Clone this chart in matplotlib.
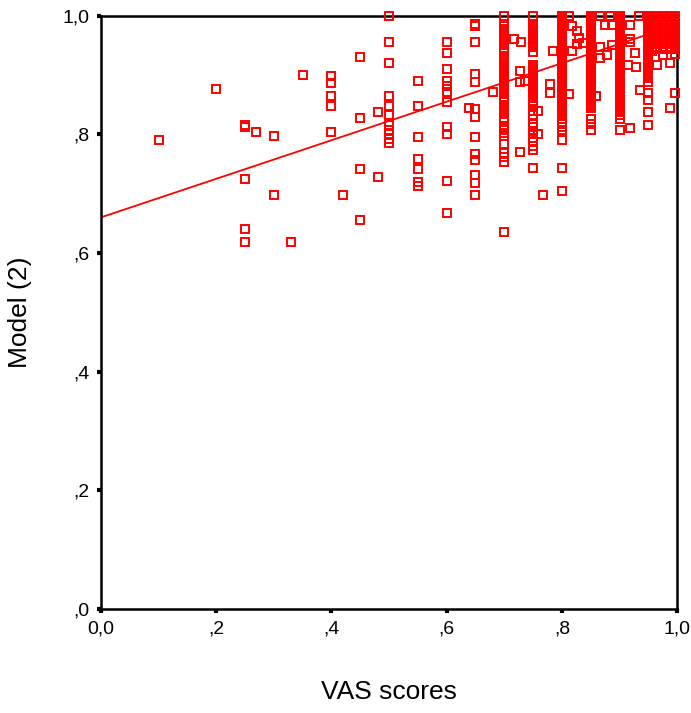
import matplotlib.pyplot as plt

# VAS score columns (x) and the model (2) values observed at each one (y)
col_x = [0.10, 0.20, 0.25, 0.27, 0.30, 0.33, 0.35, 0.40, 0.42, 0.45, 0.48,
         0.50, 0.55, 0.60, 0.65, 0.70, 0.75, 0.80, 0.85, 0.90, 0.95,
         0.965, 0.976, 0.988, 0.997]

col_y = [
    [0.79],
    [0.877],
    [0.815, 0.812, 0.725, 0.641, 0.619],
    [0.804],
    [0.798, 0.698],
    [0.618],
    [0.90],
    [0.898, 0.886, 0.864, 0.847, 0.804],
    [0.698],
    [0.930, 0.827, 0.741, 0.655],
    [0.837, 0.728],
    [1.0, 0.956, 0.92, 0.864, 0.847, 0.833, 0.816, 0.808, 0.80, 0.792, 0.785],
    [0.890, 0.847, 0.795, 0.758, 0.741, 0.719, 0.713],
    [0.956, 0.937, 0.91, 0.89, 0.882, 0.872, 0.854, 0.813, 0.80, 0.721, 0.668],
    [0.986, 0.982, 0.956, 0.902, 0.888, 0.843, 0.830, 0.795, 0.767, 0.757,
     0.732, 0.718, 0.698],
    [1.0, 0.982, 0.978, 0.974, 0.970, 0.965, 0.960, 0.955, 0.950, 0.945, 0.940,
     0.928, 0.922, 0.916, 0.910, 0.904, 0.898, 0.892, 0.886, 0.880, 0.874,
     0.868, 0.862, 0.856, 0.850, 0.845, 0.840, 0.835, 0.828, 0.822, 0.813,
     0.808, 0.802, 0.797, 0.784, 0.768, 0.762, 0.754, 0.635,
     0.925, 0.919, 0.913, 0.907, 0.901, 0.895, 0.889, 0.883, 0.877, 0.871],
    [1.0, 0.985, 0.978, 0.972, 0.966, 0.960, 0.954, 0.948, 0.938, 0.917, 0.910,
     0.903, 0.896, 0.889, 0.882, 0.875, 0.868, 0.861, 0.854, 0.847, 0.840,
     0.833, 0.825, 0.818, 0.812, 0.806, 0.800, 0.794, 0.788, 0.781, 0.774,
     0.744, 0.981, 0.975, 0.969, 0.963, 0.957, 0.951, 0.913, 0.906, 0.899,
     0.892, 0.885, 0.878, 0.871, 0.864, 0.857, 0.850],
    [1.0, 0.994, 0.988, 0.982, 0.976, 0.970, 0.964, 0.958, 0.952, 0.946, 0.940,
     0.934, 0.928, 0.922, 0.916, 0.910, 0.904, 0.898, 0.892, 0.886, 0.880,
     0.874, 0.868, 0.862, 0.856, 0.850, 0.844, 0.838, 0.832, 0.825, 0.818,
     0.812, 0.808, 0.791, 0.744, 0.705,
     0.997, 0.991, 0.985, 0.979, 0.973, 0.967, 0.961, 0.955, 0.949, 0.943,
     0.937, 0.931, 0.925, 0.919, 0.913, 0.907, 0.901, 0.895, 0.889, 0.883,
     0.877, 0.871, 0.865, 0.859, 0.853, 0.847, 0.841, 0.835],
    [1.0, 0.994, 0.988, 0.982, 0.976, 0.970, 0.964, 0.958, 0.952, 0.946, 0.940,
     0.934, 0.928, 0.922, 0.916, 0.910, 0.904, 0.898, 0.892, 0.886, 0.880,
     0.874, 0.868, 0.862, 0.856, 0.850, 0.844, 0.825, 0.818, 0.808,
     0.997, 0.991, 0.985, 0.979, 0.973, 0.967, 0.961, 0.955, 0.949, 0.943,
     0.937, 0.931, 0.925, 0.919, 0.913, 0.907, 0.901, 0.895, 0.889, 0.883,
     0.877, 0.871, 0.865, 0.859, 0.853, 0.847],
    [1.0, 0.994, 0.988, 0.982, 0.976, 0.970, 0.964, 0.958, 0.952, 0.946, 0.940,
     0.934, 0.928, 0.922, 0.916, 0.910, 0.904, 0.898, 0.892, 0.886, 0.880,
     0.874, 0.868, 0.862, 0.856, 0.850, 0.844, 0.838, 0.833, 0.825, 0.808,
     0.997, 0.991, 0.985, 0.979, 0.973, 0.967, 0.961, 0.955, 0.949, 0.943,
     0.937, 0.931, 0.925, 0.919, 0.913, 0.907, 0.901, 0.895, 0.889, 0.883,
     0.877, 0.871, 0.865, 0.859, 0.853, 0.847, 0.841],
    [1.0, 0.994, 0.988, 0.982, 0.976, 0.970, 0.964, 0.958, 0.952, 0.946, 0.940,
     0.934, 0.928, 0.922, 0.916, 0.910, 0.904, 0.898, 0.889, 0.870, 0.858,
     0.837, 0.815, 0.997, 0.991, 0.985, 0.979, 0.973, 0.967, 0.961, 0.955,
     0.949, 0.943, 0.937, 0.931, 0.925, 0.919, 0.913, 0.907, 0.901, 0.895],
    [1.0, 0.992, 0.984, 0.976, 0.968, 0.960, 0.952, 0.943, 0.917,
     0.996, 0.988, 0.980, 0.972, 0.964, 0.956, 0.948],
    [1.0, 0.992, 0.984, 0.976, 0.968, 0.960, 0.952, 0.943, 0.934,
     0.996, 0.988, 0.980, 0.972, 0.964, 0.956, 0.948],
    [1.0, 0.992, 0.984, 0.976, 0.968, 0.960, 0.952, 0.943, 0.92, 0.844,
     0.996, 0.988, 0.980, 0.972, 0.964, 0.956, 0.948],
    [1.0, 0.992, 0.984, 0.976, 0.968, 0.960, 0.952, 0.943, 0.936, 0.870,
     0.996, 0.988, 0.980, 0.972, 0.964, 0.956, 0.948],
]

# points lying between the main columns
off_x = [0.638, 0.68, 0.717, 0.729, 0.727, 0.727, 0.736, 0.727, 0.759, 0.759,
         0.768, 0.78, 0.78, 0.785, 0.8125, 0.817, 0.826, 0.83, 0.826, 0.817,
         0.8125, 0.837, 0.86, 0.866, 0.875, 0.866, 0.866, 0.879, 0.887, 0.887,
         0.884, 0.918, 0.918, 0.918, 0.915, 0.927, 0.929, 0.936, 0.918, 0.933,
         0.956]
off_y = [0.844, 0.871, 0.961, 0.956, 0.906, 0.889, 0.89, 0.771, 0.840, 0.801,
         0.698, 0.884, 0.870, 0.941, 1.0, 0.983, 0.974, 0.962, 0.952, 0.940,
         0.868, 0.954, 0.864, 1.0, 0.985, 0.948, 0.928, 0.934, 0.951, 0.985,
         1.0, 0.985, 0.96, 0.956, 0.917, 0.937, 0.913, 0.874, 0.81, 1.0,
         0.94]

# fit line
fit_intercept = 0.66
fit_slope = 0.325

x_ticks = [0.0, 0.2, 0.4, 0.6, 0.8, 1.0]
x_tick_labels = ['0,0', ',2', ',4', ',6', ',8', '1,0']
y_ticks = [0.0, 0.2, 0.4, 0.6, 0.8, 1.0]
y_tick_labels = [',0', ',2', ',4', ',6', ',8', '1,0']

plt.rcParams['font.family'] = ['Liberation Sans', 'DejaVu Sans']

fig = plt.figure(figsize=(6.91, 7.13), dpi=100)
ax = fig.add_axes([0.146, 0.146, 0.834, 0.832])

xs = []
ys = []
for x, yl in zip(col_x, col_y):
    xs.extend([x] * len(yl))
    ys.extend(yl)
xs.extend(off_x)
ys.extend(off_y)

ax.plot(xs, ys, linestyle='none', marker='s', markersize=5.8,
        markerfacecolor='none', markeredgecolor='red', markeredgewidth=1.4,
        clip_on=False, zorder=3)

ax.plot([0, 1], [fit_intercept, fit_intercept + fit_slope], color='red',
        linewidth=1.3, zorder=2)

ax.set_xlim(0, 1)
ax.set_ylim(0, 1)
ax.set_xticks(x_ticks)
ax.set_xticklabels(x_tick_labels)
ax.set_yticks(y_ticks)
ax.set_yticklabels(y_tick_labels)
ax.tick_params(direction='out', length=3, width=3, labelsize=14, pad=5)
for s in ax.spines.values():
    s.set_linewidth(1.8)

ax.set_xlabel('VAS scores', fontsize=19, labelpad=31)
ax.set_ylabel('Model (2)', fontsize=19, labelpad=22)

fig.savefig('out.png', dpi=100)
